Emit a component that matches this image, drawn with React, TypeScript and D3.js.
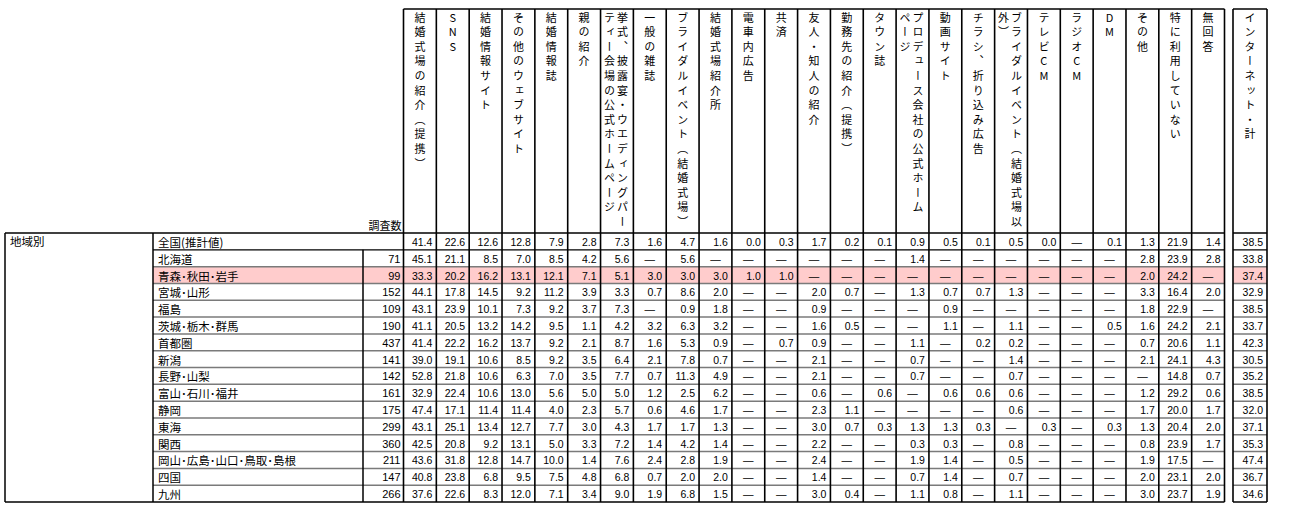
import React from "react";
import * as d3 from "d3";

// ---------- data ----------
const headerLabels: string[][] = [
  ["結婚式場の紹介（提携）"],
  ["SNS"],
  ["結婚情報サイト"],
  ["その他のウェブサイト"],
  ["結婚情報誌"],
  ["親の紹介"],
  ["挙式、披露宴・ウエディングパー", "ティー会場の公式ホームページ"],
  ["一般の雑誌"],
  ["ブライダルイベント（結婚式場）"],
  ["結婚式場紹介所"],
  ["電車内広告"],
  ["共済"],
  ["友人・知人の紹介"],
  ["勤務先の紹介（提携）"],
  ["タウン誌"],
  ["プロデュース会社の公式ホーム", "ページ"],
  ["動画サイト"],
  ["チラシ、折り込み広告"],
  ["ブライダルイベント（結婚式場以", "外）"],
  ["テレビCM"],
  ["ラジオCM"],
  ["DM"],
  ["その他"],
  ["特に利用していない"],
  ["無回答"],
];
const internetLabel = ["インターネット・計"];

const groupLabel = "地域別";
const countLabel = "調査数";
const regions = [
  "全国(推計値)",
  "北海道",
  "青森･秋田･岩手",
  "宮城･山形",
  "福島",
  "茨城･栃木･群馬",
  "首都圏",
  "新潟",
  "長野･山梨",
  "富山･石川･福井",
  "静岡",
  "東海",
  "関西",
  "岡山･広島･山口･鳥取･島根",
  "四国",
  "九州",
];
const counts: (number | null)[] = [null, 71, 99, 152, 109, 190, 437, 141, 142, 161, 175, 299, 360, 211, 147, 266];

const _ = null;
const zenkoku = [41.4, 22.6, 12.6, 12.8, 7.9, 2.8, 7.3, 1.6, 4.7, 1.6, 0.0, 0.3, 1.7, 0.2, 0.1, 0.9, 0.5, 0.1, 0.5, 0.0, _, 0.1, 1.3, 21.9, 1.4];
const hokkaido = [45.1, 21.1, 8.5, 7.0, 8.5, 4.2, 5.6, _, 5.6, _, _, _, _, _, _, 1.4, _, _, _, _, _, _, 2.8, 23.9, 2.8];
const aomori = [33.3, 20.2, 16.2, 13.1, 12.1, 7.1, 5.1, 3.0, 3.0, 3.0, 1.0, 1.0, _, _, _, _, _, _, _, _, _, _, 2.0, 24.2, _];
const miyagi = [44.1, 17.8, 14.5, 9.2, 11.2, 3.9, 3.3, 0.7, 8.6, 2.0, _, _, 2.0, 0.7, _, 1.3, 0.7, 0.7, 1.3, _, _, _, 3.3, 16.4, 2.0];
const fukushima = [43.1, 23.9, 10.1, 7.3, 9.2, 3.7, 7.3, _, 0.9, 1.8, _, _, 0.9, _, _, _, 0.9, _, _, _, _, _, 1.8, 22.9, _];
const ibaraki = [41.1, 20.5, 13.2, 14.2, 9.5, 1.1, 4.2, 3.2, 6.3, 3.2, _, _, 1.6, 0.5, _, _, 1.1, _, 1.1, _, _, 0.5, 1.6, 24.2, 2.1];
const shutoken = [41.4, 22.2, 16.2, 13.7, 9.2, 2.1, 8.7, 1.6, 5.3, 0.9, _, 0.7, 0.9, _, _, 1.1, _, 0.2, 0.2, _, _, _, 0.7, 20.6, 1.1];
const niigata = [39.0, 19.1, 10.6, 8.5, 9.2, 3.5, 6.4, 2.1, 7.8, 0.7, _, _, 2.1, _, _, 0.7, _, _, 1.4, _, _, _, 2.1, 24.1, 4.3];
const nagano = [52.8, 21.8, 10.6, 6.3, 7.0, 3.5, 7.7, 0.7, 11.3, 4.9, _, _, 2.1, _, _, 0.7, _, _, 0.7, _, _, _, _, 14.8, 0.7];
const toyama = [32.9, 22.4, 10.6, 13.0, 5.6, 5.0, 5.0, 1.2, 2.5, 6.2, _, _, 0.6, _, 0.6, _, 0.6, 0.6, 0.6, _, _, _, 1.2, 29.2, 0.6];
const shizuoka = [47.4, 17.1, 11.4, 11.4, 4.0, 2.3, 5.7, 0.6, 4.6, 1.7, _, _, 2.3, 1.1, _, _, _, _, 0.6, _, _, _, 1.7, 20.0, 1.7];
const tokai = [43.1, 25.1, 13.4, 12.7, 7.7, 3.0, 4.3, 1.7, 1.7, 1.3, _, _, 3.0, 0.7, 0.3, 1.3, 1.3, 0.3, _, 0.3, _, 0.3, 1.3, 20.4, 2.0];
const kansai = [42.5, 20.8, 9.2, 13.1, 5.0, 3.3, 7.2, 1.4, 4.2, 1.4, _, _, 2.2, _, _, 0.3, 0.3, _, 0.8, _, _, _, 0.8, 23.9, 1.7];
const chugoku = [43.6, 31.8, 12.8, 14.7, 10.0, 1.4, 7.6, 2.4, 2.8, 1.9, _, _, 2.4, _, _, 1.9, 1.4, _, 0.5, _, _, _, 1.9, 17.5, _];
const shikoku = [40.8, 23.8, 6.8, 9.5, 7.5, 4.8, 6.8, 0.7, 2.0, 2.0, _, _, 1.4, _, _, 0.7, 1.4, _, 0.7, _, _, _, 2.0, 23.1, 2.0];
const kyushu = [37.6, 22.6, 8.3, 12.0, 7.1, 3.4, 9.0, 1.9, 6.8, 1.5, _, _, 3.0, 0.4, _, 1.1, 0.8, _, 1.1, _, _, _, 3.0, 23.7, 1.9];
const internetTotal = [38.5, 33.8, 37.4, 32.9, 38.5, 33.7, 42.3, 30.5, 35.2, 38.5, 32.0, 37.1, 35.3, 47.4, 36.7, 34.6];
const highlightRow = 2;

const rowValues = [zenkoku, hokkaido, aomori, miyagi, fukushima, ibaraki, shutoken, niigata, nagano, toyama, shizuoka, tokai, kansai, chugoku, shikoku, kyushu];

// ---------- layout ----------
const W = 1314;
const H = 506;
const TOP = 9;
const HEAD_BOTTOM = 233;
const BOTTOM = 502;
const LEFT = 5;
const GROUP_RIGHT = 153;
const COUNT_LEFT = 363;
const DATA_LEFT = 403.5;
const DATA_RIGHT = 1224.5;
const NET_LEFT = 1233;
const NET_RIGHT = 1267;

const JP = "'Noto Sans CJK JP', 'Noto Sans', sans-serif";
const NUM = "'Liberation Sans', Arial, sans-serif";
const PINK = "#ffcccc";
const GRID = "#7a7a7a";
const CHAR_STEP = 14.6;
const CHAR_TOP = 12;

const fmt = d3.format(".1f");

function VerticalLabel({ cols, x0, x1 }: { cols: string[]; x0: number; x1: number }) {
  const cx = (x0 + x1) / 2;
  const positions =
    cols.length === 1 ? [cx] : [x1 - 11, x1 - 24];
  return (
    <g>
      {cols.map((col, ci) =>
        Array.from(col).map((ch, i) => (
          <text
            key={ci + "-" + i}
            x={positions[ci]}
            y={CHAR_TOP + i * CHAR_STEP}
            fontSize={11}
            fontFamily={JP}
            fill="#000"
            style={{ writingMode: "vertical-rl", textOrientation: "upright" } as any}
          >
            {ch}
          </text>
        ))
      )}
    </g>
  );
}

export default function App() {
  const cols = d3.range(headerLabels.length);
  const x = d3.scaleBand<number>().domain(cols).range([DATA_LEFT, DATA_RIGHT]);
  const rowsIdx = d3.range(regions.length);
  const y = d3.scaleBand<number>().domain(rowsIdx).range([HEAD_BOTTOM, BOTTOM]);
  const bw = x.bandwidth();
  const rh = y.bandwidth();

  return (
    <svg
      width={W}
      height={H}
      style={{ position: "absolute", left: 0, top: 0, background: "#fff" }}
    >
      <rect x={0} y={0} width={W} height={H} fill="#fff" />
      {/* highlight row */}
      <rect x={GROUP_RIGHT} y={y(highlightRow)!} width={DATA_RIGHT - GROUP_RIGHT} height={rh} fill={PINK} />
      <rect x={NET_LEFT} y={y(highlightRow)!} width={NET_RIGHT - NET_LEFT} height={rh} fill={PINK} />

      {/* horizontal row lines */}
      {rowsIdx.slice(1).map((r) => (
        <g key={"h" + r}>
          <line x1={GROUP_RIGHT} x2={DATA_RIGHT} y1={y(r)!} y2={y(r)!} stroke={r === 1 ? "#000" : GRID} strokeWidth={r === 1 ? 1.2 : 1.5} />
          <line x1={NET_LEFT} x2={NET_RIGHT} y1={y(r)!} y2={y(r)!} stroke={r === 1 ? "#000" : GRID} strokeWidth={r === 1 ? 1.2 : 1.5} />
        </g>
      ))}

      {/* header top & table top/bottom */}
      <line x1={DATA_LEFT} x2={DATA_RIGHT} y1={TOP} y2={TOP} stroke="#000" strokeWidth={1.5} />
      <line x1={NET_LEFT} x2={NET_RIGHT} y1={TOP} y2={TOP} stroke="#000" strokeWidth={1.5} />
      <line x1={LEFT} x2={DATA_RIGHT} y1={HEAD_BOTTOM} y2={HEAD_BOTTOM} stroke="#000" strokeWidth={1.5} />
      <line x1={NET_LEFT} x2={NET_RIGHT} y1={HEAD_BOTTOM} y2={HEAD_BOTTOM} stroke="#000" strokeWidth={1.5} />
      <line x1={LEFT} x2={DATA_RIGHT} y1={BOTTOM} y2={BOTTOM} stroke="#000" strokeWidth={1.5} />
      <line x1={NET_LEFT} x2={NET_RIGHT} y1={BOTTOM} y2={BOTTOM} stroke="#000" strokeWidth={1.5} />

      {/* vertical lines */}
      <line x1={LEFT} x2={LEFT} y1={HEAD_BOTTOM} y2={BOTTOM} stroke="#000" strokeWidth={1.5} />
      <line x1={GROUP_RIGHT} x2={GROUP_RIGHT} y1={HEAD_BOTTOM} y2={BOTTOM} stroke="#000" strokeWidth={1.5} />
      <line x1={COUNT_LEFT} x2={COUNT_LEFT} y1={y(1)!} y2={BOTTOM} stroke="#000" strokeWidth={1.5} />
      {cols.map((c) => (
        <line key={"v" + c} x1={x(c)!} x2={x(c)!} y1={TOP} y2={BOTTOM} stroke="#000" strokeWidth={1.6} />
      ))}
      <line x1={DATA_RIGHT} x2={DATA_RIGHT} y1={TOP} y2={BOTTOM} stroke="#000" strokeWidth={1.6} />
      <line x1={NET_LEFT} x2={NET_LEFT} y1={TOP} y2={BOTTOM} stroke="#000" strokeWidth={1.6} />
      <line x1={NET_RIGHT} x2={NET_RIGHT} y1={TOP} y2={BOTTOM} stroke="#000" strokeWidth={1.6} />

      {/* header labels */}
      {headerLabels.map((lab, c) => (
        <VerticalLabel key={"hl" + c} cols={lab} x0={x(c)!} x1={x(c)! + bw} />
      ))}
      <VerticalLabel cols={internetLabel} x0={NET_LEFT} x1={NET_RIGHT} />

      <text x={DATA_LEFT - 2} y={HEAD_BOTTOM - 3} textAnchor="end" fontSize={11} fontFamily={JP}>
        {countLabel}
      </text>

      {/* row labels */}
      <text x={LEFT + 5} y={y(0)! + rh / 2} dominantBaseline="central" fontSize={11.5} fontFamily={JP}>
        {groupLabel}
      </text>
      {regions.map((r, i) => (
        <text key={"r" + i} x={GROUP_RIGHT + 5} y={y(i)! + rh / 2 + 0.5} dominantBaseline="central" fontSize={11.5} fontFamily={JP}>
          {r}
        </text>
      ))}
      {counts.map((n, i) =>
        n == null ? null : (
          <text key={"n" + i} x={DATA_LEFT - 3} y={y(i)! + rh / 2 + 0.5} dominantBaseline="central" textAnchor="end" fontSize={11} fontFamily={NUM}>
            {n}
          </text>
        )
      )}

      {/* values */}
      {rowValues.map((vals, i) =>
        vals.map((v, c) =>
          v == null ? (
            <text key={i + "-" + c} x={x(c)! + bw / 2} y={y(i)! + rh / 2 + 0.5} dominantBaseline="central" textAnchor="middle" fontSize={10.5} fontFamily={NUM}>
              —
            </text>
          ) : (
            <text key={i + "-" + c} x={x(c)! + bw - 4} y={y(i)! + rh / 2 + 0.5} dominantBaseline="central" textAnchor="end" fontSize={10.5} fontFamily={NUM}>
              {fmt(v)}
            </text>
          )
        )
      )}
      {internetTotal.map((v, i) => (
        <text key={"net" + i} x={NET_RIGHT - 4} y={y(i)! + rh / 2 + 0.5} dominantBaseline="central" textAnchor="end" fontSize={10.5} fontFamily={NUM}>
          {fmt(v)}
        </text>
      ))}
    </svg>
  );
}
